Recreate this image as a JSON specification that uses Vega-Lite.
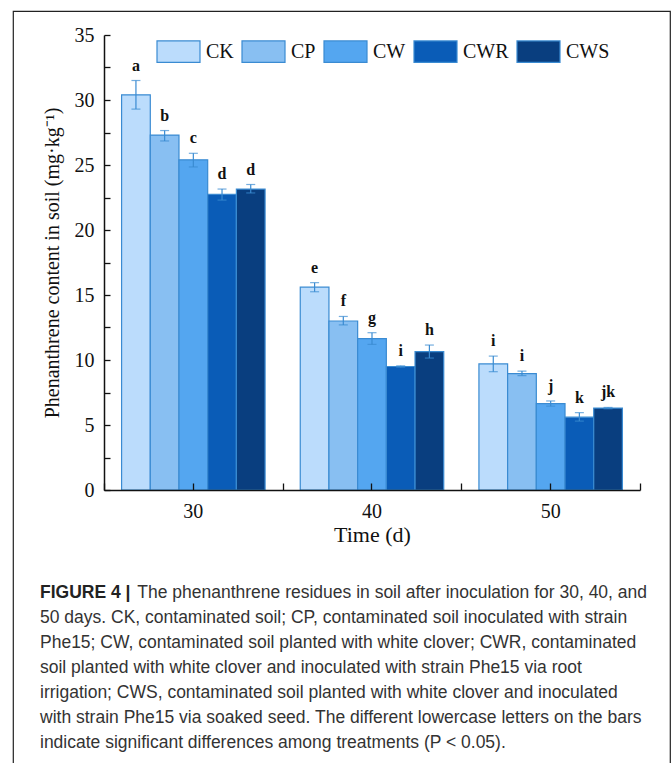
{
  "$schema": "https://vega.github.io/schema/vega-lite/v6.json",
  "width": 657,
  "height": 800,
  "autosize": {"type": "none"},
  "padding": {"left": 13, "top": 11, "right": 2, "bottom": 0},
  "background": "white",
  "config": {
    "view": {"stroke": "#222", "strokeWidth": 1.2},
    "font": "Liberation Serif"
  },
  "title": {
    "text": "FIGURE 4 |",
    "subtitle": [
      "\u200b\u00a0\u00a0\u00a0\u00a0\u00a0\u00a0\u00a0\u00a0\u00a0\u00a0\u00a0\u00a0\u00a0\u00a0\u00a0\u00a0\u00a0\u00a0\u00a0\u00a0The phenanthrene residues in soil after inoculation for 30, 40, and",
      "50 days. CK, contaminated soil; CP, contaminated soil inoculated with strain",
      "Phe15; CW, contaminated soil planted with white clover; CWR, contaminated",
      "soil planted with white clover and inoculated with strain Phe15 via root",
      "irrigation; CWS, contaminated soil planted with white clover and inoculated",
      "with strain Phe15 via soaked seed. The different lowercase letters on the bars",
      "indicate significant differences among treatments (P < 0.05)."
    ],
    "orient": "bottom",
    "anchor": "start",
    "frame": "group",
    "offset": -227,
    "dx": 27,
    "font": "Liberation Sans",
    "fontSize": 17.5,
    "fontWeight": "bold",
    "color": "#222",
    "subtitleFont": "Liberation Sans",
    "subtitleFontSize": 17.5,
    "subtitleFontWeight": "normal",
    "subtitleColor": "#333",
    "subtitleLineHeight": 25,
    "subtitlePadding": -17.5
  },
  "data": {
    "values": [
      {"time": "30", "trt": "CK", "mean": 30.4, "lo": 29.3, "hi": 31.5, "sig": "a"},
      {"time": "30", "trt": "CP", "mean": 27.3, "lo": 26.85, "hi": 27.65, "sig": "b"},
      {"time": "30", "trt": "CW", "mean": 25.4, "lo": 24.85, "hi": 25.9, "sig": "c"},
      {"time": "30", "trt": "CWR", "mean": 22.75, "lo": 22.3, "hi": 23.15, "sig": "d"},
      {"time": "30", "trt": "CWS", "mean": 23.15, "lo": 22.85, "hi": 23.5, "sig": "d"},
      {"time": "40", "trt": "CK", "mean": 15.6, "lo": 15.25, "hi": 15.95, "sig": "e"},
      {"time": "40", "trt": "CP", "mean": 13.0, "lo": 12.7, "hi": 13.35, "sig": "f"},
      {"time": "40", "trt": "CW", "mean": 11.65, "lo": 11.2, "hi": 12.1, "sig": "g"},
      {"time": "40", "trt": "CWR", "mean": 9.5, "lo": 9.45, "hi": 9.55, "sig": "i"},
      {"time": "40", "trt": "CWS", "mean": 10.65, "lo": 10.15, "hi": 11.15, "sig": "h"},
      {"time": "50", "trt": "CK", "mean": 9.7, "lo": 9.1, "hi": 10.3, "sig": "i"},
      {"time": "50", "trt": "CP", "mean": 8.95, "lo": 8.8, "hi": 9.15, "sig": "i"},
      {"time": "50", "trt": "CW", "mean": 6.65, "lo": 6.45, "hi": 6.85, "sig": "j"},
      {"time": "50", "trt": "CWR", "mean": 5.6, "lo": 5.3, "hi": 5.95, "sig": "k"},
      {"time": "50", "trt": "CWS", "mean": 6.3, "lo": 6.25, "hi": 6.35, "sig": "jk"}
    ]
  },
  "layer": [
    {
      "mark": {"type": "bar", "stroke": "#3a8bd2", "strokeWidth": 1.2},
      "encoding": {
        "x": {
          "field": "time", "type": "nominal",
          "scale": {"range": [91, 627], "paddingInner": 0, "paddingOuter": 0},
          "axis": {
            "orient": "bottom", "offset": -321, "title": "Time (d)", "zindex": 1,
            "titleFont": "Liberation Serif", "titleFontSize": 22, "titleFontWeight": "normal", "titleColor": "#111",
            "titlePadding": 3,
            "labelFont": "Liberation Serif", "labelFontSize": 20, "labelAngle": 0, "labelColor": "#111",
            "labelPadding": 18, "tickBand": "center", "tickSize": -7, "tickColor": "#111", "tickWidth": 1.3,
            "domainColor": "#111", "domainWidth": 1.5
          }
        },
        "xOffset": {"field": "trt", "type": "nominal", "sort": ["CK", "CP", "CW", "CWR", "CWS"], "scale": {"paddingInner": 0, "paddingOuter": 0.613}},
        "y": {
          "field": "mean", "type": "quantitative",
          "scale": {"domain": [0, 35], "range": [479, 24], "nice": false, "zero": true},
          "axis": {
            "orient": "left", "offset": -91, "zindex": 1,
            "values": [0, 2.5, 5, 7.5, 10, 12.5, 15, 17.5, 20, 22.5, 25, 27.5, 30, 32.5, 35],
            "labelExpr": "datum.value % 5 === 0 ? datum.label : ''",
            "grid": false,
            "title": "Phenanthrene content in soil (mg·kg⁻¹)",
            "titleFont": "Liberation Serif", "titleFontSize": 20, "titleFontWeight": "normal", "titleColor": "#111",
            "titlePadding": 12,
            "labelFont": "Liberation Serif", "labelFontSize": 20, "labelColor": "#111",
            "labelPadding": 16, "tickSize": -6, "tickColor": "#111", "tickWidth": 1.3,
            "domainColor": "#111", "domainWidth": 1.5
          }
        },
        "fill": {
          "field": "trt", "type": "nominal",
          "scale": {"domain": ["CK", "CP", "CW", "CWR", "CWS"], "range": ["#bbdcfc", "#88bff2", "#54a6f0", "#0a5cb7", "#093e7f"]},
          "legend": {
            "orient": "none", "legendX": 143, "legendY": 18, "direction": "horizontal", "columns": 5,
            "title": null, "symbolType": "M-1,-0.5H1V0.5H-1Z", "symbolSize": 1849,
            "symbolStrokeColor": "#3a8bd2", "symbolStrokeWidth": 1.2, "symbolOpacity": 1,
            "labelFont": "Liberation Serif", "labelFontSize": 20, "labelColor": "#111",
            "labelOffset": 5, "columnPadding": 5
          }
        }
      }
    },
    {
      "mark": {"type": "rule", "color": "#3a8bd2", "strokeWidth": 1.2},
      "encoding": {
        "x": {
          "field": "time", "type": "nominal",
          "axis": {
            "orient": "bottom", "offset": -321, "title": null, "labels": false, "domain": false, "zindex": 1,
            "tickBand": "extent", "tickSize": -7, "tickColor": "#111", "tickWidth": 1.3
          }
        },
        "xOffset": {"field": "trt", "type": "nominal", "sort": ["CK", "CP", "CW", "CWR", "CWS"]},
        "y": {"field": "lo", "type": "quantitative"},
        "y2": {"field": "hi"}
      }
    },
    {
      "mark": {"type": "tick", "color": "#3a8bd2", "size": 9, "thickness": 1.2},
      "encoding": {
        "x": {"field": "time", "type": "nominal", "axis": null},
        "xOffset": {"field": "trt", "type": "nominal", "sort": ["CK", "CP", "CW", "CWR", "CWS"]},
        "y": {"field": "lo", "type": "quantitative"}
      }
    },
    {
      "mark": {"type": "tick", "color": "#3a8bd2", "size": 9, "thickness": 1.2},
      "encoding": {
        "x": {"field": "time", "type": "nominal", "axis": null},
        "xOffset": {"field": "trt", "type": "nominal", "sort": ["CK", "CP", "CW", "CWR", "CWS"]},
        "y": {"field": "hi", "type": "quantitative"}
      }
    },
    {
      "mark": {"type": "text", "font": "Liberation Serif", "fontWeight": "bold", "fontSize": 16, "dy": -15, "baseline": "middle", "color": "#111"},
      "encoding": {
        "x": {"field": "time", "type": "nominal", "axis": null},
        "xOffset": {"field": "trt", "type": "nominal", "sort": ["CK", "CP", "CW", "CWR", "CWS"]},
        "y": {"field": "hi", "type": "quantitative"},
        "text": {"field": "sig"}
      }
    }
  ],
  "resolve": {"axis": {"x": "independent"}}
}
